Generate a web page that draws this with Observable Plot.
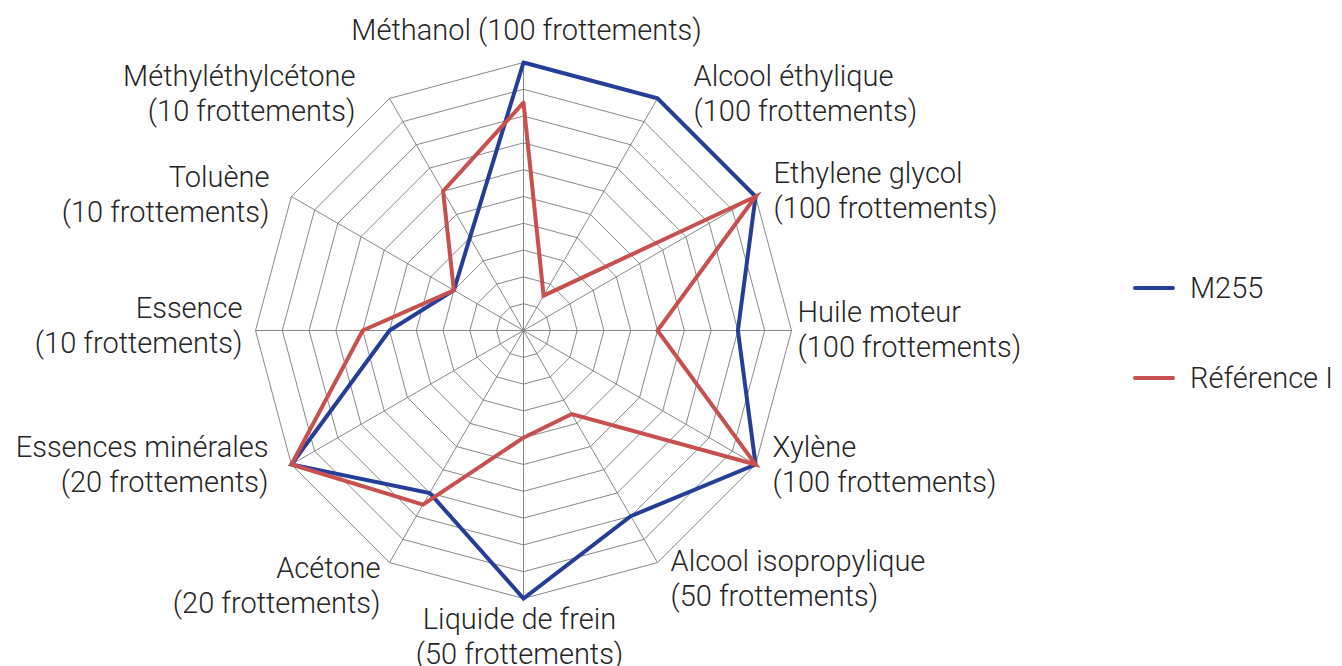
<!DOCTYPE html>
<html>
<head>
<meta charset="utf-8">
<script src="https://cdn.jsdelivr.net/npm/d3@7"></script>
<script src="https://cdn.jsdelivr.net/npm/@observablehq/plot@0.6"></script>
<style>
  html, body { margin: 0; padding: 0; background: #fff; overflow: hidden; }
  #wrap { position: relative; width: 1342px; height: 666px; overflow: hidden; }
  #legend { position: absolute; left: 1133px; top: 0; font-family: Roboto, "Liberation Sans", sans-serif; font-weight: 300; font-size: 29px; line-height: 34px; color: #262626; white-space: nowrap; }
  .item { position: absolute; left: 0; display: flex; align-items: center; height: 34px; }
  .item svg { margin-right: 15px; }
</style>
</head>
<body>
<div id="wrap"></div>
<script>
// ---- data ----
const categories = ["Méthanol", "Alcool éthylique", "Ethylene glycol", "Huile moteur", "Xylène",
  "Alcool isopropylique", "Liquide de frein", "Acétone", "Essences minérales", "Essence",
  "Toluène", "Méthyléthylcétone"];
const frottements = [100, 100, 100, 100, 100, 50, 50, 20, 20, 10, 10, 10];
const seriesNames = ["M255", "Référence I"];
const m255 = [10, 10, 10, 8, 10, 8, 10, 7, 10, 5, 3, 4];
const reference = [8.5, 1.5, 10, 5, 10, 3.6, 4, 7.5, 10, 6, 3, 6];
const ringLevels = [1, 2, 3, 4, 5, 6, 7, 8, 9, 10];
const colors = ["#253f98", "#c8504e"];

// ---- derived tables ----
const n = categories.length;
const ang = i => (i % n) * 2 * Math.PI / n;
const px = (r, i) => r * Math.sin(ang(i));
const py = (r, i) => r * Math.cos(ang(i));
const maxR = d3.max(ringLevels);

const rings = ringLevels.flatMap(r => d3.range(n + 1).map(i => ({ring: r, i, r})));
const spokes = categories.map((c, i) => ({i, r: maxR}));
const seriesData = seriesNames.flatMap((s, k) => {
  const vals = k === 0 ? m255 : reference;
  return d3.range(n + 1).map(i => ({series: s, i, r: vals[i % n]}));
});
const labels = categories.map((c, i) => ({
  i, r: maxR,
  text: i === 0 ? `${c} (${frottements[i]} frottements)` : `${c}\n(${frottements[i]} frottements)`
}));

// label placement style (anchor, pixel offsets from the axis end)
const labelStyle = [
  ["middle", 3, -34], ["start", 36, -6], ["start", 18, -7], ["start", 6, -2],
  ["start", 17, -1], ["start", 13, 15], ["middle", -4, 37], ["end", -9, 22],
  ["end", -23, -1], ["end", -13, -6], ["end", -22, -3], ["end", -34, -6]
];

// ---- scales: center at (523,330), radius 268px ----
const W = 1342, H = 666, cx = 523, cy = 330, R = 268;
const unit = R / maxR;

const font = {fontFamily: "Roboto, 'Liberation Sans', sans-serif", fontWeight: 300, fontSize: 29, fill: "#262626", lineHeight: 1.2};

const chart = Plot.plot({
  width: W, height: H,
  margin: 0,
  x: {domain: [-cx / unit, (W - cx) / unit], range: [0, W], axis: null},
  y: {domain: [-(H - cy) / unit, cy / unit], range: [H, 0], axis: null},
  color: {domain: seriesNames, range: colors},
  marks: [
    Plot.line(rings, {x: d => px(d.r, d.i), y: d => py(d.r, d.i), z: "ring", stroke: "#7a7a7a", strokeWidth: 0.9}),
    Plot.link(spokes, {x1: 0, y1: 0, x2: d => px(d.r, d.i), y2: d => py(d.r, d.i), stroke: "#7a7a7a", strokeWidth: 0.9}),
    Plot.line(seriesData, {x: d => px(d.r, d.i), y: d => py(d.r, d.i), z: "series", stroke: "series", strokeWidth: 4, strokeLinejoin: "miter", strokeMiterlimit: 10}),
    ...labels.map((d, i) => Plot.text([d], {
      x: d => px(d.r, d.i), y: d => py(d.r, d.i), text: "text",
      textAnchor: labelStyle[i][0], dx: labelStyle[i][1], dy: labelStyle[i][2], ...font
    }))
  ]
});
const wrap = document.getElementById("wrap");
wrap.appendChild(chart);

// ---- legend ----
const legend = document.createElement("div");
legend.id = "legend";
const legendTops = [271, 361];
seriesNames.forEach((s, k) => {
  const item = document.createElement("div");
  item.className = "item";
  item.style.top = legendTops[k] + "px";
  item.innerHTML = `<svg width="42" height="8"><line x1="2" y1="4" x2="40" y2="4" stroke="${colors[k]}" stroke-width="4" stroke-linecap="round"/></svg><span>${s}</span>`;
  legend.appendChild(item);
});
wrap.appendChild(legend);
</script>
</body>
</html>
